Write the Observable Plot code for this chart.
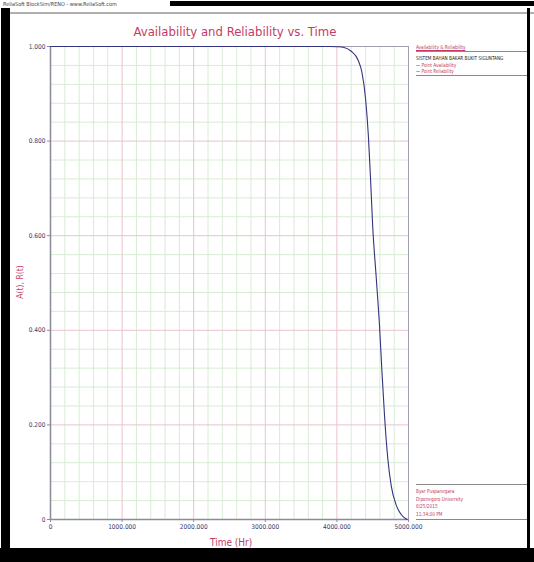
<!DOCTYPE html>
<html>
<head>
<meta charset="utf-8">
<script src="https://cdn.jsdelivr.net/npm/d3@7"></script>
<script src="https://cdn.jsdelivr.net/npm/@observablehq/plot@0.6"></script>
<style>
  html, body { margin: 0; padding: 0; background: #fff; }
  #wrap { position: relative; width: 534px; height: 562px; overflow: hidden; font-family: "DejaVu Sans Condensed", "Liberation Sans", sans-serif; }
  .abs { position: absolute; white-space: nowrap; }
  .pink { color: #c43c64; }
  .blk { background: #000; position: absolute; }
  .hr { position: absolute; height: 1px; background: #8a8a8a; }
  .leg { font-size: 5.5px; line-height: 6px; transform: scaleX(0.85); transform-origin: left top; }
</style>
</head>
<body>
<div id="wrap">
  <div id="chart" class="abs" style="left:0;top:0;"></div>
  <div class="abs" style="left:3px;top:1px;font-size:5.5px;color:#444;">ReliaSoft BlockSim/RENO - www.ReliaSoft.com</div>
  <div class="blk" style="left:170px;top:1px;width:364px;height:5px;"></div>
  <div class="hr" style="left:10px;top:12px;width:524px;background:#b0b0b0;height:2px;"></div>
  <div class="blk" style="left:1px;top:8px;width:9px;height:554px;"></div>
  <div class="blk" style="left:0;top:548px;width:534px;height:14px;"></div>
  <div class="blk" style="left:527px;top:8px;width:3px;height:542px;"></div>

  <div class="abs pink" style="left:0;width:470px;text-align:center;top:24px;font-size:13px;">Availability and Reliability vs. Time</div>
  <div class="abs pink" style="left:210px;top:537px;font-size:10px;">Time (Hr)</div>
  <div class="abs pink" style="left:-2px;top:277px;font-size:8.5px;transform:rotate(-90deg);transform-origin:center;width:44px;text-align:center;">A(t), R(t)</div>

  <div class="abs pink leg" style="left:416px;top:44px;text-decoration:underline;">Availability &amp; Reliability</div>
  <div class="hr" style="left:416px;top:51px;width:111px;"></div>
  <div class="abs leg" style="left:416px;top:55px;color:#222;">SISTEM BAHAN BAKAR BUKIT SIGUNTANG</div>
  <div class="abs leg" style="left:416px;top:62px;"><span style="color:#222;">—</span> <span class="pink">Point Availability</span></div>
  <div class="abs leg" style="left:416px;top:68px;"><span style="color:#222;">—</span> <span class="pink">Point Reliability</span></div>
  <div class="hr" style="left:416px;top:75px;width:111px;"></div>

  <div class="hr" style="left:416px;top:484px;width:111px;"></div>
  <div class="abs pink leg" style="left:416px;top:488px;line-height:7.5px;">Byar Puspanegara<br>Diponegoro University<br>8/25/2015<br>11:34:00 PM</div>
  <div class="hr" style="left:416px;top:519px;width:111px;"></div>
</div>
<script>
const xMajor = [0, 1000, 2000, 3000, 4000, 5000];
const yMajor = [0, 0.2, 0.4, 0.6, 0.8, 1.0];
const xMinor = [200,400,600,800,1200,1400,1600,1800,2200,2400,2600,2800,3200,3400,3600,3800,4200,4400,4600,4800];
const yMinor = [0.04,0.08,0.12,0.16,0.24,0.28,0.32,0.36,0.44,0.48,0.52,0.56,0.64,0.68,0.72,0.76,0.84,0.88,0.92,0.96];

const timeHr = [0, 1000, 2000, 3000, 3900, 4000, 4100, 4200, 4300, 4350, 4400, 4440, 4470, 4500, 4550, 4595, 4630, 4665, 4710, 4760, 4830, 4900, 4980];
const reliability = [1, 1, 1, 1, 1, 0.9995, 0.998, 0.99, 0.97, 0.945, 0.89, 0.81, 0.72, 0.62, 0.51, 0.41, 0.31, 0.22, 0.13, 0.07, 0.03, 0.01, 0.0];

const data = timeHr.map((t, i) => ({t, r: reliability[i]}));
const fmt = d => d === 0 ? "0" : d.toFixed(3);

const chart = Plot.plot({
  width: 534,
  height: 562,
  marginLeft: 50,
  marginRight: 126,
  marginTop: 46,
  marginBottom: 43,
  x: {domain: [0, 5000]},
  y: {domain: [0, 1]},
  style: {fontFamily: '"DejaVu Sans Condensed", sans-serif', fontSize: "6.5px", color: "#38386e", background: "transparent"},
  marks: [
    Plot.ruleX(xMinor, {stroke: "#d8ecd4", strokeWidth: 1}),
    Plot.ruleY(yMinor, {stroke: "#d8ecd4", strokeWidth: 1}),
    Plot.ruleX(xMajor, {stroke: "#eac3cc", strokeWidth: 1}),
    Plot.ruleY(yMajor, {stroke: "#eac3cc", strokeWidth: 1}),
    Plot.frame({stroke: "#a0a0b0"}),
    Plot.ruleX([0], {stroke: "#8a8a9a", strokeWidth: 1.5}),
    Plot.ruleY([0], {stroke: "#8a8a9a", strokeWidth: 1.5}),
    Plot.line(data, {x: "t", y: "r", stroke: "#34347e", strokeWidth: 1.1, curve: "monotone-x"}),
    Plot.axisX({ticks: xMajor, tickFormat: fmt, tickSize: 3, tickPadding: 2, label: null, stroke: "#8a8a9a"}),
    Plot.axisY({ticks: yMajor, tickFormat: fmt, tickSize: 3, tickPadding: 2, label: null, stroke: "#8a8a9a"})
  ]
});
document.getElementById("chart").appendChild(chart);
</script>
</body>
</html>
